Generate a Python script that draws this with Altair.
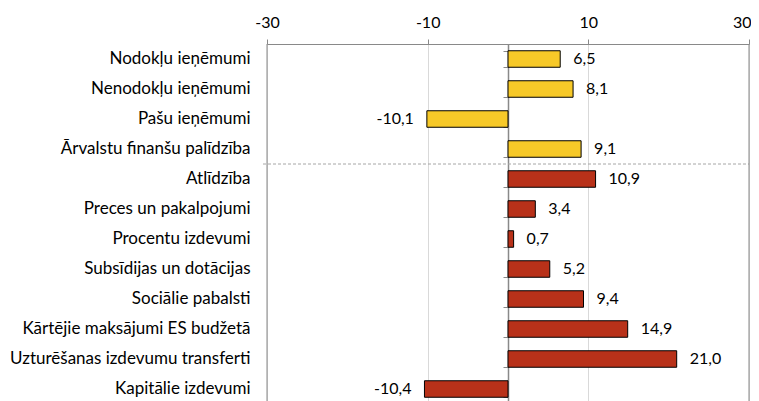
import altair as alt
import pandas as pd

categories = [
    "Nodokļu ieņēmumi",
    "Nenodokļu ieņēmumi",
    "Pašu ieņēmumi\u00a0",
    "Ārvalstu finanšu palīdzība",
    "Atlīdzība\u00a0",
    "Preces un pakalpojumi\u00a0",
    "Procentu izdevumi\u00a0",
    "Subsīdijas un dotācijas",
    "Sociālie pabalsti",
    "Kārtējie maksājumi ES budžetā",
    "Uzturēšanas izdevumu transferti",
    "Kapitālie izdevumi",
]
values = [6.5, 8.1, -10.1, 9.1, 10.9, 3.4, 0.7, 5.2, 9.4, 14.9, 21.0, -10.4]
groups = ["ienemumi"] * 4 + ["izdevumi"] * 8
x_ticks = [-30, -10, 10, 30]

df = pd.DataFrame({"cat": categories, "val": values, "grp": groups})

FONT = "Lato"
W = 482
H_FULL = 360
H_VIEW = 357

y_scale = alt.Scale(paddingInner=0.45, paddingOuter=0.225, range=[0, H_FULL])
x_scale = alt.Scale(domain=[-30, 30], nice=False, zero=False)
LBL = "replace(replace(format(datum.val, '.1f'), '.', ','), '\u2212', '-')"

base = alt.Chart(df)

bars = base.mark_bar(stroke="black", strokeWidth=1).encode(
    x=alt.X("val:Q", scale=x_scale, title=None,
            axis=alt.Axis(orient="top", values=x_ticks, grid=True, gridColor="#d9d9d9",
                          domainColor="#898989", tickColor="#898989", tickSize=5,
                          labelFontSize=16, labelFont=FONT, labelColor="black",
                          labelPadding=9,
                          labelAlign={"expr": "datum.value >= 30 ? 'right' : 'center'"},
                          labelOffset={"expr": "datum.value >= 30 ? 2 : 0"},
                          labelExpr="replace(datum.label, '\u2212', '-')")),
    x2=alt.datum(0),
    y=alt.Y("cat:N", sort=categories, title=None, scale=y_scale,
            axis=alt.Axis(orient="left", labels=True, ticks=False, domain=False,
                          labelFontSize=17, labelFont=FONT, labelColor="black",
                          labelPadding=17, labelLimit=300)),
    color=alt.Color("grp:N", legend=None,
                    scale=alt.Scale(domain=["ienemumi", "izdevumi"],
                                    range=["#F7C928", "#B83119"])),
)

zero_axis = base.mark_rule(opacity=0).encode(
    x=alt.datum(0, scale=x_scale),
    y=alt.Y("cat:N", sort=categories, title=None, scale=y_scale,
            axis=alt.Axis(orient="left", offset=-W / 2, labels=False, ticks=True,
                          tickBand="extent", tickSize=5, tickColor="#898989",
                          domain=True, domainColor="#898989", domainWidth=1.5)),
)

pos_text = base.transform_filter("datum.val >= 0").transform_calculate(
    lbl=LBL
).mark_text(align="left", baseline="middle", dx=13, fontSize=16, font=FONT, color="black").encode(
    x=alt.X("val:Q", scale=x_scale),
    y=alt.Y("cat:N", sort=categories, scale=y_scale, axis=None),
    text="lbl:N",
)

neg_text = base.transform_filter("datum.val < 0").transform_calculate(
    lbl=LBL
).mark_text(align="right", baseline="middle", dx=-13, fontSize=16, font=FONT, color="black").encode(
    x=alt.X("val:Q", scale=x_scale),
    y=alt.Y("cat:N", sort=categories, scale=y_scale, axis=None),
    text="lbl:N",
)

one = pd.DataFrame({"k": [0]})

sep = alt.Chart(one).mark_rule(
    color="#a6a6a6", strokeDash=[3, 2], strokeWidth=1
).encode(x=alt.value(-4), x2=alt.value(W), y=alt.value(120))

left_border = alt.Chart(one).mark_rule(color="#898989", strokeWidth=1).encode(
    x=alt.value(0), y=alt.value(0), y2=alt.value(H_FULL))
right_border = alt.Chart(one).mark_rule(color="#898989", strokeWidth=1).encode(
    x=alt.value(W), y=alt.value(0), y2=alt.value(H_FULL))

chart = alt.layer(bars, zero_axis, pos_text, neg_text, sep, left_border, right_border).resolve_axis(
    y="independent"
).properties(
    width=W, height=H_VIEW,
    autosize=alt.AutoSizeParams(type="none"),
    padding={"left": 259, "top": 36, "right": 2, "bottom": 0},
).configure_view(stroke=None).configure_axis(labelFont=FONT)

chart.save("out.html", embed_options={"renderer": "svg", "actions": False})
